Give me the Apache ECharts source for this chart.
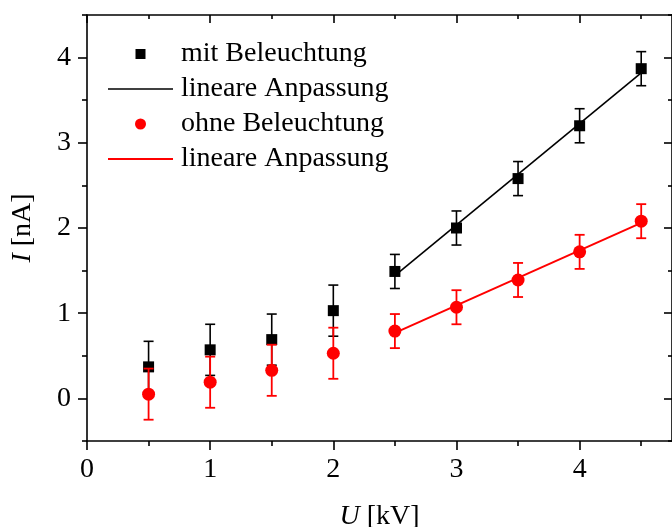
<!DOCTYPE html>
<html>
<head>
<meta charset="utf-8">
<script src="https://cdn.jsdelivr.net/npm/echarts@6/dist/echarts.min.js"></script>
<style>
html,body{margin:0;padding:0;background:#fff;}
#chart{width:672px;height:527px;}
</style>
</head>
<body>
<div id="chart"></div>
<script>
// ---- data ----
const uValues = [0.5, 1, 1.5, 2, 2.5, 3, 3.5, 4, 4.5];
const iWith = [0.37, 0.57, 0.69, 1.03, 1.49, 2.00, 2.58, 3.20, 3.87];
const errWith = [0.3, 0.3, 0.3, 0.3, 0.2, 0.2, 0.2, 0.2, 0.2];
const iWithout = [0.05, 0.19, 0.33, 0.53, 0.79, 1.07, 1.39, 1.72, 2.08];
const errWithout = [0.3, 0.3, 0.3, 0.3, 0.2, 0.2, 0.2, 0.2, 0.2];
const fitX = [2.5, 4.5];
const fitWithY = [1.44, 3.82];
const fitWithoutY = [0.77, 2.06];
const xMajorTicks = [0, 1, 2, 3, 4];
const xMinorTicks = [0.5, 1.5, 2.5, 3.5, 4.5];
const yMajorTicks = [0, 1, 2, 3, 4];
const yMinorTicks = [-0.5, 0.5, 1.5, 2.5, 3.5, 4.5];
const seriesNames = ['mit Beleuchtung', 'lineare Anpassung', 'ohne Beleuchtung', 'lineare Anpassung '];

const FONT = "'Liberation Serif', 'Times New Roman', serif";
const X_MIN = 0, X_MAX = 4.75, Y_MIN = -0.5, Y_MAX = 4.5;

function errData(ys, errs) {
  return uValues.map((u, i) => [u, ys[i] - errs[i], ys[i] + errs[i]]);
}
function errRender(color, lw) {
  return function (params, api) {
    const x = api.value(0), lo = api.value(1), hi = api.value(2);
    const pHi = api.coord([x, hi]);
    const pLo = api.coord([x, lo]);
    const w = 5;
    const st = { stroke: color, lineWidth: lw };
    return {
      type: 'group',
      children: [
        { type: 'line', shape: { x1: pHi[0], y1: pHi[1], x2: pLo[0], y2: pLo[1] }, style: st },
        { type: 'line', shape: { x1: pHi[0] - w, y1: pHi[1], x2: pHi[0] + w, y2: pHi[1] }, style: st },
        { type: 'line', shape: { x1: pLo[0] - w, y1: pLo[1], x2: pLo[0] + w, y2: pLo[1] }, style: st }
      ]
    };
  };
}

const axisLineStyle = { color: '#000', width: 1.6 };
const tickStyle = { color: '#000', width: 1.6 };
const labelStyle = { fontSize: 28, fontFamily: FONT, color: '#000' };

function xAx(opts) {
  return Object.assign({
    type: 'value', min: X_MIN, max: X_MAX, interval: 1,
    splitLine: { show: false },
    axisLine: { show: false, onZero: false, lineStyle: axisLineStyle },
    axisLabel: { show: false },
    axisTick: { show: false }
  }, opts);
}
function yAx(opts) {
  return Object.assign({
    type: 'value', min: Y_MIN, max: Y_MAX, interval: 0.5,
    splitLine: { show: false },
    axisLine: { show: false, onZero: false, lineStyle: axisLineStyle },
    axisLabel: { show: false },
    axisTick: { show: false }
  }, opts);
}

const chart = echarts.init(document.getElementById('chart'), null, { renderer: 'canvas' });
chart.setOption({
  animation: false,
  backgroundColor: '#fff',
  grid: { left: 87, right: 0, top: 15, bottom: 86, containLabel: false, outerBoundsMode: 'none' },
  legend: {
    orient: 'vertical', left: 108, top: 40, padding: 0,
    itemWidth: 65, itemHeight: 11, itemGap: 7,
    selectedMode: false,
    textStyle: { fontSize: 28, fontFamily: FONT, color: '#000', lineHeight: 28, padding: [0, 0, 0, 3] },
    data: [
      { name: seriesNames[0], icon: 'path://M0 0M11 11M0.5 0.5H10.5V10.5H0.5Z' },
      { name: seriesNames[1], icon: 'path://M0 0H100V2.4H0Z' },
      { name: seriesNames[2], icon: 'circle' },
      { name: seriesNames[3], icon: 'path://M0 0H100V3H0Z' }
    ]
  },
  xAxis: [
    xAx({
      position: 'bottom',
      axisLine: { show: true, onZero: false, lineStyle: axisLineStyle },
      axisTick: { show: true, customValues: xMajorTicks, length: 9, inside: false, lineStyle: tickStyle },
      axisLabel: Object.assign({ show: true, customValues: xMajorTicks, margin: 15,
        formatter: v => (Number.isInteger(v) ? String(v) : '') }, labelStyle),
      name: '{i|U} [kV]', nameLocation: 'middle', nameGap: 62,
      nameTextStyle: { fontSize: 28, fontFamily: FONT, color: '#000',
        rich: { i: { fontStyle: 'italic', fontSize: 28, fontFamily: FONT, color: '#000' } } }
    }),
    xAx({
      position: 'bottom',
      axisTick: { show: true, customValues: xMinorTicks, length: 5, inside: false, lineStyle: tickStyle }
    }),
    xAx({
      position: 'top',
      axisLine: { show: true, onZero: false, lineStyle: axisLineStyle },
      axisTick: { show: true, customValues: xMajorTicks, length: 8, inside: true, lineStyle: tickStyle }
    }),
    xAx({
      position: 'top',
      axisTick: { show: true, customValues: xMinorTicks, length: 4, inside: true, lineStyle: tickStyle }
    })
  ],
  yAxis: [
    yAx({
      position: 'left',
      axisLine: { show: true, onZero: false, lineStyle: axisLineStyle },
      axisTick: { show: true, customValues: yMajorTicks, length: 9, inside: false, lineStyle: tickStyle },
      axisLabel: Object.assign({ show: true, customValues: yMajorTicks, margin: 16,
        formatter: v => (Number.isInteger(v) ? String(v) : '') }, labelStyle),
      name: '{i|I} [nA]', nameLocation: 'middle', nameGap: 50,
      nameTextStyle: { fontSize: 28, fontFamily: FONT, color: '#000',
        rich: { i: { fontStyle: 'italic', fontSize: 28, fontFamily: FONT, color: '#000' } } }
    }),
    yAx({
      position: 'left',
      axisTick: { show: true, customValues: yMinorTicks, length: 5, inside: false, lineStyle: tickStyle }
    }),
    yAx({
      position: 'right',
      axisLine: { show: true, onZero: false, lineStyle: axisLineStyle },
      axisTick: { show: true, customValues: yMajorTicks, length: 8, inside: true, lineStyle: tickStyle }
    }),
    yAx({
      position: 'right',
      axisTick: { show: true, customValues: yMinorTicks, length: 4, inside: true, lineStyle: tickStyle }
    })
  ],
  series: [
    {
      type: 'custom', name: 'errWith', xAxisIndex: 0, yAxisIndex: 0,
      renderItem: errRender('#000', 1.6),
      encode: { x: 0, y: [1, 2] },
      data: errData(iWith, errWith), z: 2
    },
    {
      type: 'scatter', name: seriesNames[0], xAxisIndex: 0, yAxisIndex: 0,
      symbol: 'rect', symbolSize: 11,
      itemStyle: { color: '#000', opacity: 1 },
      data: uValues.map((u, i) => [u, iWith[i]]), z: 3
    },
    {
      type: 'line', name: seriesNames[1], xAxisIndex: 0, yAxisIndex: 0,
      symbol: 'none', showSymbol: false,
      lineStyle: { color: '#000', width: 1.6 },
      itemStyle: { color: '#000', opacity: 1 },
      data: fitX.map((x, i) => [x, fitWithY[i]]), z: 3
    },
    {
      type: 'custom', name: 'errWithout', xAxisIndex: 0, yAxisIndex: 0,
      renderItem: errRender('#ff0000', 1.8),
      encode: { x: 0, y: [1, 2] },
      data: errData(iWithout, errWithout), z: 4
    },
    {
      type: 'scatter', name: seriesNames[2], xAxisIndex: 0, yAxisIndex: 0,
      symbol: 'circle', symbolSize: 13,
      itemStyle: { color: '#ff0000', opacity: 1 },
      data: uValues.map((u, i) => [u, iWithout[i]]), z: 5
    },
    {
      type: 'line', name: seriesNames[3], xAxisIndex: 0, yAxisIndex: 0,
      symbol: 'none', showSymbol: false,
      lineStyle: { color: '#ff0000', width: 2 },
      itemStyle: { color: '#ff0000', opacity: 1 },
      data: fitX.map((x, i) => [x, fitWithoutY[i]]), z: 5
    }
  ]
});
</script>
</body>
</html>
